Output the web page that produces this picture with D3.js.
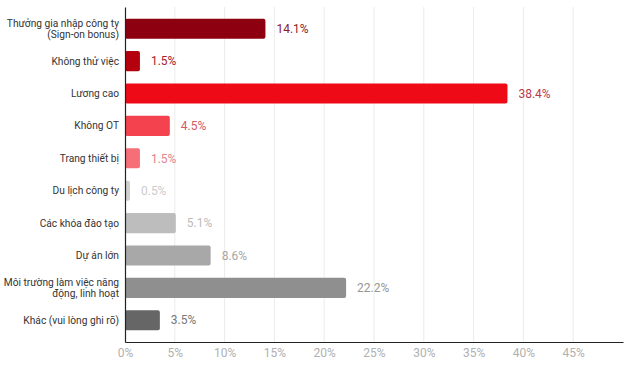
<!DOCTYPE html>
<html><head><meta charset="utf-8">
<script src="https://cdn.jsdelivr.net/npm/d3@7"></script>
<style>body{margin:0;background:#fff}svg{display:block;font-family:Roboto,"Noto Sans",sans-serif}</style>
</head><body><svg id="c" width="640" height="373"></svg>
<script>
const categories = [
  ["Thưởng gia nhập công ty", "(Sign-on bonus)"],
  ["Không thử việc"],
  ["Lương cao"],
  ["Không OT"],
  ["Trang thiết bị"],
  ["Du lịch công ty"],
  ["Các khóa đào tạo"],
  ["Dự án lớn"],
  ["Môi trường làm việc năng", "động, linh hoạt"],
  ["Khác (vui lòng ghi rõ)"]
];
const values = [14.1, 1.5, 38.4, 4.5, 1.5, 0.5, 5.1, 8.6, 22.2, 3.5];
const barColors = ["#8c0010","#b5000e","#ef0a18","#f4434f","#f66e77","#cfcfcf","#bdbdbd","#a8a8a8","#8f8f8f","#666666"];
const labelColors = ["#8c1a28","#a8202c","#c0394a","#d65a66","#e0848c","#cccccc","#bbbbbb","#a5a5a5","#969696","#777777"];
const xTicks = [0,5,10,15,20,25,30,35,40,45];

const svg = d3.select("#c");
const x = d3.scaleLinear().domain([0,50]).range([125,623]);
const y = d3.scaleBand().domain(d3.range(values.length)).range([7,342]).paddingInner(0.38).paddingOuter(0.36);

// gridlines
svg.append("g").selectAll("line").data(xTicks.filter(d=>d>0)).join("line")
  .attr("x1",d=>x(d)).attr("x2",d=>x(d)).attr("y1",7).attr("y2",342)
  .attr("stroke","#ececec").attr("stroke-width",1);

// bars
svg.append("g").selectAll("rect").data(values).join("rect")
  .attr("x",x(0)).attr("y",(d,i)=>y(i)).attr("width",d=>x(d)-x(0)).attr("height",y.bandwidth())
  .attr("rx",2).attr("fill",(d,i)=>barColors[i]);

// value labels
svg.append("g").selectAll("text").data(values).join("text")
  .attr("x",d=>x(d)+11).attr("y",(d,i)=>y(i)+y.bandwidth()/2).attr("dy","0.35em")
  .attr("font-size",12).attr("fill",(d,i)=>labelColors[i]).text(d=>d.toFixed(1)+"%");

// category labels
const fs = 10.2, lh = 10.6;
const cl = svg.append("g").selectAll("text").data(categories).join("text")
  .attr("text-anchor","end").attr("font-size",fs).attr("fill","#333")
  .attr("y",(d,i)=>y(i)+y.bandwidth()/2);
cl.each(function(lines){
  const t = d3.select(this);
  const n = lines.length;
  lines.forEach((s,k)=>{
    t.append("tspan").attr("x",119)
      .attr("dy", k===0 ? (0.35*fs - (n-1)*lh/2) : lh).text(s);
  });
});

// x axis
const xa = d3.axisBottom(x).tickValues(xTicks).tickFormat(d=>d+"%").tickSize(0).tickPadding(6);
const gx = svg.append("g").attr("transform","translate(0,342)").call(xa);
gx.select(".domain").attr("stroke","#222").attr("stroke-width",1.2);
gx.selectAll("text").attr("font-size",12).attr("fill","#b0b0b0").attr("font-family","Roboto,sans-serif");

// y axis line
const ya = d3.axisLeft(y).tickValues([]).tickSize(0);
const gy = svg.append("g").attr("transform","translate(125,0)").call(ya);
gy.select(".domain").attr("stroke","#222").attr("stroke-width",1.2);
</script></body></html>
